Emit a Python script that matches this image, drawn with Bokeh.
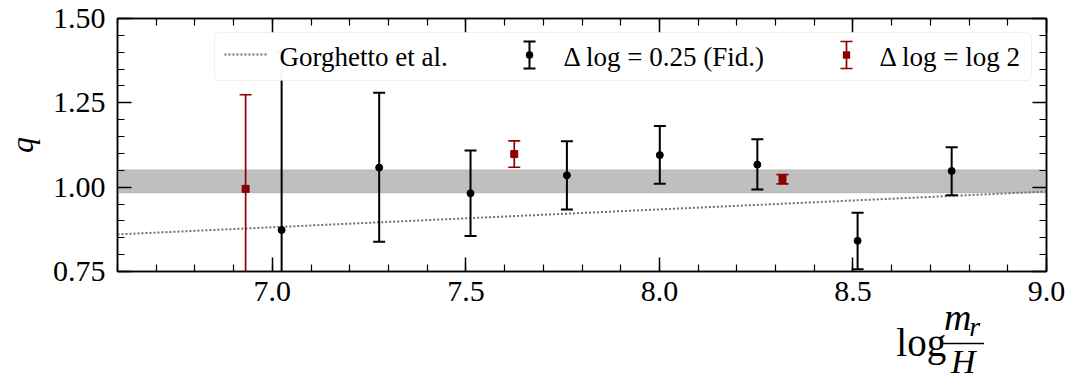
from bokeh.plotting import figure
from bokeh.layouts import column
from bokeh.models import (Range1d, LinearAxis, SingleIntervalTicker, NumeralTickFormatter,
                          BoxAnnotation, Label, Arrow, TeeHead, CustomJSTickFormatter)
from bokeh.embed import file_html
from bokeh.resources import INLINE

# ---------------- data ----------------
# Delta log = 0.25 (Fid.)
fid_x = [7.024, 7.276, 7.512, 7.761, 8.001, 8.253, 8.512, 8.755]
fid_q = [0.873, 1.058, 0.982, 1.035, 1.095, 1.067, 0.841, 1.048]
fid_lo = [0.350, 0.838, 0.855, 0.934, 1.010, 0.993, 0.757, 0.976]
fid_hi = [1.400, 1.280, 1.109, 1.136, 1.181, 1.142, 0.924, 1.118]

# Delta log = log 2
log2_x = [6.931, 7.625, 8.318]
log2_q = [0.995, 1.098, 1.024]
log2_lo = [0.716, 1.059, 1.010]
log2_hi = [1.274, 1.137, 1.037]

# Gorghetto et al. (straight line in log m_r/H)
gorg_x = [6.6, 9.0]
gorg_q = [0.860, 0.987]

# shaded band
band_lo = 0.983
band_hi = 1.052

legend_labels = ["Gorghetto et al.", "\u0394 log = 0.25 (Fid.)", "\u0394 log = log 2"]

# ---------------- main figure ----------------
FONT = "Liberation Serif, DejaVu Serif, serif"
RED = "#8b0000"
FL, FT, FW, FH = 116, 18, 929, 253        # frame position / size in page pixels
FB = FT + FH
BOTTOM = 70                                # bottom border of the main plot
PH = FB + BOTTOM                           # main plot canvas height
BASE_SHIFT = 0.25                          # label baseline correction (fraction of font size)

p = figure(frame_width=FW, frame_height=FH,
           x_range=Range1d(6.6, 9.0), y_range=Range1d(0.75, 1.50),
           output_backend="svg", toolbar_location=None,
           min_border_left=FL, min_border_right=25, min_border_top=FT, min_border_bottom=BOTTOM,
           background_fill_color="white", border_fill_color="white")
p.grid.visible = False
p.outline_line_color = "black"
p.outline_line_width = 1.5


def style_axis(ax, labels=True):
    ax.major_tick_in = 14
    ax.major_tick_out = 0
    ax.minor_tick_in = 7
    ax.minor_tick_out = 0
    ax.major_tick_line_width = 1.5
    ax.minor_tick_line_width = 1.2
    ax.major_tick_line_color = "black"
    ax.minor_tick_line_color = "black"
    ax.axis_line_width = 1.5
    ax.axis_line_color = "black"
    if labels:
        ax.major_label_text_font = FONT
        ax.major_label_text_font_size = "30px"
        ax.major_label_text_color = "black"
    else:
        ax.formatter = CustomJSTickFormatter(code="return ''")
        ax.major_label_text_font_size = "1px"
        ax.major_label_text_color = None
        ax.major_label_standoff = 0


xax = p.xaxis[0]
xax.ticker = SingleIntervalTicker(interval=0.5, num_minor_ticks=5)
xax.formatter = NumeralTickFormatter(format="0.0")
style_axis(xax)
xax.major_label_standoff = 10

yax = p.yaxis[0]
yax.ticker = SingleIntervalTicker(interval=0.25, num_minor_ticks=5)
yax.formatter = NumeralTickFormatter(format="0.00")
style_axis(yax)
yax.major_label_standoff = 12
yax.axis_label = "q"
yax.axis_label_text_font = FONT
yax.axis_label_text_font_size = "32px"
yax.axis_label_text_font_style = "italic"
yax.axis_label_text_color = "black"
yax.axis_label_text_line_height = 1.0
yax.axis_label_standoff = 10

top = LinearAxis(ticker=SingleIntervalTicker(interval=0.5, num_minor_ticks=5))
style_axis(top, labels=False)
p.add_layout(top, "above")
right = LinearAxis(ticker=SingleIntervalTicker(interval=0.25, num_minor_ticks=5))
style_axis(right, labels=False)
p.add_layout(right, "right")

# band
p.add_layout(BoxAnnotation(bottom=band_lo, top=band_hi, fill_color="#bfbfbf", fill_alpha=1.0,
                           line_color="#a3a3a3", line_width=1.2, level="underlay"))

# Gorghetto line
p.line(gorg_x, gorg_q, line_color="#707070", line_width=2, line_dash="2 2")

# red points
p.segment(x0=log2_x, y0=log2_lo, x1=log2_x, y1=log2_hi, line_color=RED, line_width=1.7)
p.scatter(log2_x, log2_hi, marker="dash", size=12, line_color=RED, line_width=1.7)
p.scatter(log2_x, log2_lo, marker="dash", size=12, line_color=RED, line_width=1.7)
p.scatter(log2_x, log2_q, marker="square", size=7, fill_color=RED, line_color=RED)

# black points
p.segment(x0=fid_x, y0=fid_lo, x1=fid_x, y1=fid_hi, line_color="black", line_width=2)
p.scatter(fid_x, fid_hi, marker="dash", size=12, line_color="black", line_width=2)
p.scatter(fid_x, fid_lo, marker="dash", size=12, line_color="black", line_width=2)
p.scatter(fid_x, fid_q, marker="circle", size=7, fill_color="black", line_color="black")


# ---------------- legend (screen units relative to the frame) ----------------
def SX(ix):
    return ix - FL


def SY(iy):
    return FB - iy


SCR = dict(left_units="screen", right_units="screen", top_units="screen", bottom_units="screen")

p.add_layout(BoxAnnotation(left=SX(213), right=SX(1030), top=SY(32), bottom=SY(80),
                           fill_color="white", fill_alpha=0.96, line_color="#cccccc",
                           line_width=1, border_radius=5, **SCR))

p.add_layout(Arrow(x_start=SX(223), y_start=SY(54), x_end=SX(265), y_end=SY(54),
                   start_units="screen", end_units="screen", start=None, end=None,
                   line_color="#707070", line_width=2, line_dash="2 2"))


def errkey(ix, color, lw, radius):
    p.add_layout(Arrow(x_start=SX(ix), y_start=SY(68), x_end=SX(ix), y_end=SY(41),
                       start_units="screen", end_units="screen",
                       start=TeeHead(size=12, line_color=color, line_width=lw),
                       end=TeeHead(size=12, line_color=color, line_width=lw),
                       line_color=color, line_width=lw))
    p.add_layout(BoxAnnotation(left=SX(ix - 3.5), right=SX(ix + 3.5), top=SY(51), bottom=SY(58),
                               fill_color=color, fill_alpha=1.0, line_color=color,
                               border_radius=radius, **SCR))


errkey(528, "black", 2, 3)
errkey(845, RED, 1.7, 0)

LEG_FS = 27
for txt, ix in zip(legend_labels, [278, 562, 878]):
    p.add_layout(Label(x=SX(ix), y=SY(63 - BASE_SHIFT * LEG_FS), x_units="screen", y_units="screen",
                       text=txt, text_font=FONT, text_font_size=f"{LEG_FS}px", text_color="black",
                       text_baseline="alphabetic", text_align="left"))

# ---------------- x label strip (log m_r / H), transparent, overlapping the bottom border ----------------
TOP2 = 272
H2 = 106
p2 = figure(width=1070, height=H2, x_range=Range1d(0, 1070), y_range=Range1d(TOP2 + H2, TOP2),
            output_backend="svg", toolbar_location=None,
            x_axis_location=None, y_axis_location=None, min_border=0,
            outline_line_color=None, background_fill_color=None, border_fill_color=None,
            margin=(TOP2 - PH, 0, 0, 0))
p2.grid.visible = False


def tex(x, y, s, fs, style="normal"):
    p2.add_layout(Label(x=x, y=y - BASE_SHIFT * fs, text=s, text_font=FONT,
                        text_font_size=f"{fs}px", text_font_style=style,
                        text_baseline="alphabetic", text_color="black"))


tex(898, 352, "log", 39)
tex(953, 326, "m", 38, "italic")
tex(982, 333, "r", 28, "italic")
tex(961, 369, "H", 34, "italic")
p2.add_layout(Arrow(x_start=952, y_start=343, x_end=999, y_end=343, start=None, end=None,
                    line_color="black", line_width=1.6))

layout = column(p, p2, spacing=0)
open("out.html", "w").write(file_html(layout, INLINE))
